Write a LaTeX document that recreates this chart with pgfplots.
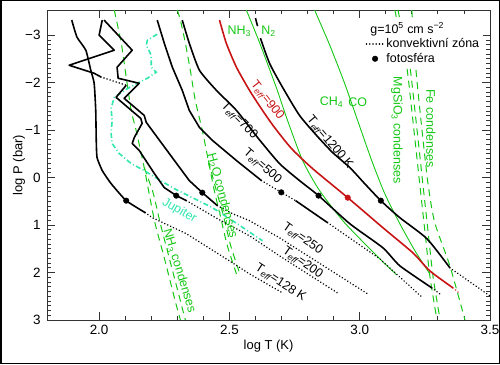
\documentclass[border=0pt]{standalone}
\usepackage{pgfplots}
\pgfplotsset{compat=1.18}
\usepackage{fontspec}
\setmainfont{Liberation Sans}
\definecolor{grn}{RGB}{20,200,20}
\definecolor{myred}{RGB}{200,20,20}
\definecolor{jup}{RGB}{50,230,175}
\newcommand{\fs}{\fontsize{13.5}{15}\selectfont}
\newcommand{\fl}{\fontsize{13}{15}\selectfont}
\newcommand{\ls}{\fontsize{12.5}{14}\selectfont}
\newcommand{\Teff}{T\textsubscript{\itshape eff}}
\begin{document}
\begin{tikzpicture}[x=1bp,y=1bp]
\useasboundingbox (0,0) rectangle (500,364);
\draw[line width=1.5bp] (0.75,0.75) rectangle (499.25,363.25);
\begin{axis}[
  at={(47bp,44bp)}, anchor=south west,
  scale only axis, width=443bp, height=310bp,
  xmin=1.8, xmax=3.5, ymin=-3.53, ymax=3.0, y dir=reverse,
  xtick={2.0,2.5,3.0,3.5}, xticklabels={2.0,2.5,3.0,3.5},
  ytick={-3,-2,-1,0,1,2,3}, yticklabels={−3,−2,−1,0,1,2,3},
  minor x tick num=4, minor y tick num=9,
  tick align=inside, xtick pos=both, ytick pos=both,
  major tick length=8bp, minor tick length=4bp,
  every tick/.style={black!80, line width=0.8bp},
  axis line style={black!80, line width=0.9bp},
  tick label style={font=\fs},
  xticklabel style={yshift=-2bp},
  yticklabel style={xshift=-3bp},
  label style={font=\fl},
  xlabel={log T (K)}, ylabel={log P (bar)},
  xlabel style={at={(axis description cs:0.5,-0.084)}, anchor=center},
  ylabel style={at={(axis description cs:-0.063,0.5)}, anchor=center},
  clip=true,
  blk/.style={black, line width=1.6bp, line join=round},
  conv/.style={black, line width=1.7bp, line cap=round, dash pattern=on 0.01bp off 3.2bp},
  gs/.style={grn, line width=0.9bp, smooth, tension=0.4},
  gd/.style={grn, line width=1bp, dash pattern=on 7bp off 5bp, smooth, tension=0.4},
  legend style={at={(0.985,0.972)}, anchor=north east, draw=none, fill=white, font=\ls, row sep=0bp, inner sep=2bp},
  legend cell align=left,
]
\addlegendimage{empty legend}\addlegendentry{\hspace*{-16bp}g=10\textsuperscript{5} cm s\textsuperscript{−2}}
\addlegendimage{conv}\addlegendentry{konvektivní zóna}
\addlegendimage{only marks, mark=*, mark size=2.8bp, black}\addlegendentry{fotosféra}

% green condensation / chemistry curves
\addplot[gd] coordinates {(2.058,-3.528)(2.085,-2.831)(2.104,-2.113)(2.123,-1.415)(2.142,-0.993)(2.173,-0.211)(2.192,0.338)(2.215,0.972)(2.250,1.690)(2.292,2.599)(2.312,3.0)};
\addplot[gd] coordinates {(2.173,-0.211)(2.208,0.338)(2.235,0.972)(2.269,1.690)(2.312,2.599)(2.331,3.0)};
\addplot[gd] coordinates {(2.300,-3.528)(2.312,-3.317)(2.331,-2.831)(2.35,-2.261)(2.369,-1.627)(2.396,-0.993)(2.419,-0.359)(2.442,0.275)(2.465,0.803)(2.492,1.437)(2.527,2.028)};
\addplot[gd] coordinates {(2.419,-0.359)(2.450,0.275)(2.477,0.803)(2.505,1.437)(2.540,2.028)};
\addplot[gd] coordinates {(3.135,-3.528)(3.158,-2.894)(3.181,-2.324)(3.204,-1.204)(3.231,0.169)(3.25,1.120)(3.269,2.070)(3.296,2.979)};
\addplot[gd] coordinates {(3.147,-3.528)(3.170,-2.894)(3.193,-2.324)(3.216,-1.204)(3.243,0.169)(3.262,1.120)(3.281,2.070)(3.308,2.979)};
\addplot[gd] coordinates {(3.2,-3.528)(3.215,-2.324)(3.235,-1.204)(3.262,0.127)(3.288,0.951)(3.346,1.859)(3.404,3.0)};
\addplot[gs] coordinates {(2.565,-3.528)(2.615,-2.852)(2.681,-1.880)(2.723,-1.204)(2.781,-0.359)(2.846,0.275)(2.942,0.951)(3.077,1.711)(3.142,2.049)};
\addplot[gs] coordinates {(2.827,-3.528)(2.885,-2.789)(2.942,-1.986)(2.992,-1.204)(3.046,-0.359)(3.096,0.338)(3.154,0.972)(3.212,1.542)(3.269,2.028)};

% Jupiter
\addplot[jup, line width=1.6bp, dash pattern=on 5bp off 2.5bp on 1bp off 2.5bp] coordinates {(2.223,-3.021)(2.185,-2.894)(2.181,-2.789)(2.2,-2.577)(2.2,-2.324)(2.219,-2.218)(2.185,-2.092)(2.146,-1.986)(2.104,-1.859)(2.058,-1.690)(2.046,-1.458)(2.05,-1.204)(2.046,-0.930)(2.05,-0.718)(2.077,-0.507)(2.123,-0.296)(2.173,-0.148)(2.223,0.021)(2.288,0.232)(2.435,0.634)(2.512,0.908)(2.627,1.331)};

% Teff = 128
\addplot[blk, smooth, tension=0.3] coordinates {(1.895,-3.317)(1.915,-2.958)(1.949,-2.683)(1.968,-2.261)(1.981,-1.986)(1.987,-1.415)(1.989,-0.782)(1.992,-0.423)(2.012,-0.148)(2.046,0.127)(2.104,0.486)(2.177,0.739)};
\addplot[conv] coordinates {(2.177,0.739)(2.204,0.845)(2.335,1.183)(2.5,1.754)(2.577,2.028)(2.704,2.430)};
% Teff = 200
\addplot[blk] coordinates {(2.012,-3.317)(2.0,-3.0)(2.058,-2.683)(1.885,-2.366)(1.981,-2.197)(2.007,-2.119)};
\addplot[conv] coordinates {(2.007,-2.119)(2.104,-1.944)};
\addplot[blk] coordinates {(2.104,-1.944)(2.065,-1.690)(2.160,-1.246)(2.165,-1.141)(2.135,-0.845)(2.127,-0.718)(2.154,-0.570)(2.212,-0.085)(2.25,0.211)(2.296,0.380)(2.335,0.486)};
\addplot[conv] coordinates {(2.335,0.486)(2.454,0.866)(2.577,1.225)(2.692,1.648)(2.915,2.430)};
% Teff = 250
\addplot[blk] coordinates {(2.019,-3.317)(2.127,-2.683)(2.069,-2.324)(2.073,-2.092)(2.154,-1.986)(2.096,-1.669)(2.173,-1.310)(2.181,-1.162)(2.289,-0.359)(2.346,0.063)(2.396,0.317)(2.454,0.592)};
\addplot[conv] coordinates {(2.454,0.592)(2.512,0.76)(2.577,0.908)(2.692,1.268)(3.031,2.451)};
% Teff = 500
\addplot[blk] coordinates {(2.223,-3.317)(2.25,-2.831)(2.281,-2.324)(2.319,-1.838)(2.346,-1.415)(2.385,-1.056)(2.435,-0.782)(2.527,-0.359)(2.623,0.063)};
\addplot[conv] coordinates {(2.623,0.063)(2.699,0.311)(2.754,0.486)};
\addplot[blk] coordinates {(2.754,0.486)(2.877,0.951)};
\addplot[conv] coordinates {(2.877,0.951)(3.077,1.711)(3.242,2.535)};
% Teff = 700
\addplot[blk, smooth, tension=0.35] coordinates {(2.319,-3.317)(2.346,-2.831)(2.385,-2.261)(2.45,-1.838)(2.527,-1.415)(2.608,-0.845)(2.692,-0.296)(2.769,0.063)(2.842,0.380)(2.962,0.972)(3.089,1.479)(3.154,1.859)(3.277,2.324)};
\addplot[conv] coordinates {(3.277,2.324)(3.308,2.451)};
% Teff = 900
\addplot[myred, line width=1.6bp, line join=round, smooth, tension=0.4] coordinates {(2.462,-3.317)(2.488,-2.831)(2.527,-2.324)(2.577,-1.838)(2.627,-1.415)(2.673,-1.056)(2.738,-0.613)(2.819,-0.190)(2.954,0.423)(3.089,1.056)(3.204,1.585)(3.269,1.965)(3.358,2.324)};
\addplot[myred, line width=1.7bp, line cap=round, dash pattern=on 0.01bp off 3.2bp] coordinates {(3.358,2.324)(3.385,2.451)};
% Teff = 1200
\addplot[blk] coordinates {(2.6,-3.359)(2.608,-3.19)};
\addplot[blk, smooth, tension=0.4] coordinates {(2.619,-2.937)(2.654,-2.408)(2.704,-1.901)(2.769,-1.310)(2.838,-0.866)(2.896,-0.528)(2.962,-0.211)(3.019,0.127)(3.081,0.486)(3.154,0.845)(3.258,1.289)(3.346,1.901)};
\addplot[conv] coordinates {(3.346,1.901)(3.5,2.493)};

% photospheres
\addplot[only marks, mark=*, mark size=2.8bp, black] coordinates {(2.104,0.486)(2.296,0.380)(2.396,0.317)(2.699,0.311)(2.842,0.380)(3.081,0.486)};
\addplot[only marks, mark=*, mark size=2.8bp, myred] coordinates {(2.954,0.423)};

% labels
\node[font=\ls, rotate=-33] at (axis cs:2.696,2.218) {\Teff=128 K};
\node[font=\ls, rotate=-35] at (axis cs:2.781,1.796) {\Teff=200};
\node[font=\ls, rotate=-35] at (axis cs:2.781,1.289) {\Teff=250};
\node[font=\ls, rotate=-41] at (axis cs:2.627,-0.232) {\Teff=500};
\node[font=\ls, rotate=-45] at (axis cs:2.538,-1.204) {\Teff=700};
\node[font=\ls, rotate=-52, text=myred] at (axis cs:2.645,-1.627) {\Teff=900};
\node[font=\ls, rotate=-50] at (axis cs:2.885,-0.739) {\Teff=1200 K};
\node[font=\ls, text=grn] at (axis cs:2.538,-3.085) {NH\textsubscript{3}};
\node[font=\ls, text=grn] at (axis cs:2.65,-3.085) {N\textsubscript{2}};
\node[font=\ls, text=grn] at (axis cs:2.892,-1.585) {CH\textsubscript{4}};
\node[font=\ls, text=grn] at (axis cs:2.992,-1.585) {CO};
\node[font=\ls, text=grn, rotate=-90] at (axis cs:3.142,-0.993) {MgSiO\textsubscript{3} condenses};
\node[font=\ls, text=grn, rotate=-90] at (axis cs:3.273,-1.035) {Fe condenses};
\node[font=\ls, text=grn, rotate=-75] at (axis cs:2.473,0.380) {H\textsubscript{2}O condenses};
\node[font=\ls, text=grn, rotate=-73] at (axis cs:2.308,1.965) {NH\textsubscript{3} condenses};
\node[font=\ls, text=jup, rotate=-30] at (axis cs:2.308,0.697) {Jupiter};
\end{axis}
\end{tikzpicture}
\end{document}
